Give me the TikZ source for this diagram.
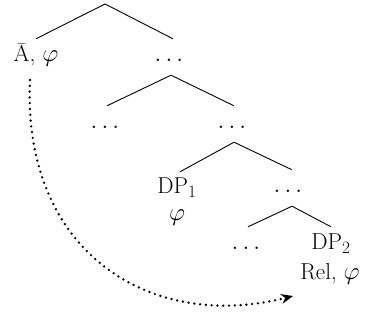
\documentclass[tikz,border=0pt]{standalone}
\usepackage{fontspec}
\usepackage{tikz}
\usetikzlibrary{arrows.meta}
\usepackage{amsmath}

\begin{document}
\begin{tikzpicture}[x=1pt, y=-1pt,
            font=\fontsize{23}{27}\selectfont,
            lab/.style={inner xsep=0pt, inner ysep=8pt,
                    text height=15pt, text depth=5pt, anchor=base},
            ramo/.style={line width=0.9pt},
            legame/.style={line width=2.6pt, line cap=round,
                    dash pattern=on 0pt off 5.8pt,
                    -{Stealth[length=12pt, width=10pt, line width=0pt]}}
        ]
        \useasboundingbox (0,0) rectangle (369,320);
        % Coordinate assolute per ogni livello dell'albero
        \coordinate (rad) at (105, 4);
        \node[lab] (abar) at (36, 62)  {Ā, $\varphi$};
        \node[lab] (p1)   at (171, 62) {$\dots$};
        \node[lab] (p2)   at (107, 129) {$\dots$};
        \node[lab] (p3)   at (234, 129) {$\dots$};
        \node[lab] (dp1)  at (177, 194) {DP$_1$};
        \node[lab] (phi1) at (177, 221) {$\varphi$};
        \node[lab] (p4)   at (290, 193) {$\dots$};
        \node[lab] (p5)   at (248, 250) {$\dots$};
        \node[lab] (dp2)  at (331, 250) {DP$_2$};
        \node[lab] (rel)  at (330, 279) {Rel, $\varphi$};

        \draw[ramo] (rad) -- (abar.north);
        \draw[ramo] (rad) -- ([xshift=2pt]p1.north);
        \draw[ramo] (p1.south) -- (p2.north);
        \draw[ramo] (p1.south) -- (p3.north);
        \draw[ramo] (p3.south) -- ([xshift=3pt, yshift=-1pt]dp1.north);
        \draw[ramo] (p3.south) -- ([xshift=2pt]p4.north);
        \draw[ramo] ([xshift=2pt]p4.south) -- (p5.north);
        \draw[ramo] ([xshift=2pt]p4.south) -- (dp2.north);

        % legame a distanza
        \coordinate (da) at (30, 80);
        \coordinate (a)  at (293, 296);
        \draw[legame] (da) .. controls (22, 252) and (150, 332) .. (a);
    \end{tikzpicture}
\end{document}
